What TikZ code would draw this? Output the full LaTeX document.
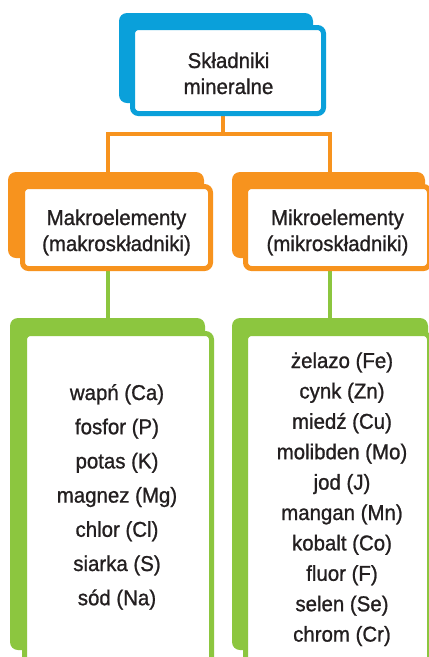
\documentclass[tikz,border=0pt]{standalone}
\usepackage{fontspec}
\setmainfont{Liberation Sans}[FakeStretch=0.95,FakeBold=1]
\definecolor{cblue}{HTML}{0AA0DA}
\definecolor{corange}{HTML}{F7931E}
\definecolor{cgreen}{HTML}{8CC63F}
\definecolor{ctext}{HTML}{231F20}
\tikzset{
  backbox/.style={fill=#1, draw=none, rounded corners=8pt, inner sep=0pt},
  frontbox/.style={fill=white, draw=#1, line width=5pt, rounded corners=6pt, inner sep=0pt},
  txt/.style={font=\fontsize{21.5}{25}\selectfont, text=ctext, inner sep=0pt, anchor=base},
  oline/.style={draw=corange, line width=4pt},
  gline/.style={draw=cgreen, line width=4pt}
}
\begin{document}
\begin{tikzpicture}[x=1pt,y=-1pt]
\clip (0,0) rectangle (429,657);
\fill[white] (0,0) rectangle (429,657);
% connectors (under the boxes)
\coordinate (j) at (223,134);
\coordinate (hl) at (108,134);
\coordinate (hr) at (330,134);
\coordinate (bstart) at (223,110);
\coordinate (ol) at (108,172);
\coordinate (or) at (330,172);
\draw[oline] (bstart) -- (j);
\draw[oline] (ol) -- (hl) -- (hr) -- (or);
\coordinate (gl1) at (108,265);
\coordinate (gl2) at (108,320);
\coordinate (gr1) at (330,265);
\coordinate (gr2) at (330,320);
\draw[gline] (gl1) -- (gl2);
\draw[gline] (gr1) -- (gr2);
% blue card
\node[backbox=cblue, minimum width=194pt, minimum height=90pt] (blueback) at (216,58) {};
\node[frontbox=cblue, minimum width=191pt, minimum height=86pt] (bluefront) at (228,70.5) {};
% orange cards
\node[backbox=corange, minimum width=196pt, minimum height=86pt] (olback) at (106,215) {};
\node[frontbox=corange, minimum width=188pt, minimum height=82pt] (olfront) at (116.5,227.5) {};
\node[backbox=corange, minimum width=193pt, minimum height=86pt] (orback) at (328.5,215) {};
\node[frontbox=corange, minimum width=184pt, minimum height=82pt] (orfront) at (337.5,227.5) {};
% green cards
\node[backbox=cgreen, minimum width=195pt, minimum height=332pt] (glback) at (107.5,484) {};
\node[frontbox=cgreen, minimum width=187pt, minimum height=344pt] (glfront) at (118,505.5) {};
\node[backbox=cgreen, minimum width=196pt, minimum height=332pt] (grback) at (330,484) {};
\node[frontbox=cgreen, minimum width=184pt, minimum height=344pt] (grfront) at (337.5,505.5) {};
% texts
\node[txt] (t1) at (228.5,68) {Składniki};
\node[txt] (t2) at (228.5,94) {mineralne};
\node[txt] (t3) at (116.5,225) {Makroelementy};
\node[txt] (t4) at (116.5,251) {(makroskładniki)};
\node[txt] (t5) at (337.5,225) {Mikroelementy};
\node[txt] (t6) at (337.5,251) {(mikroskładniki)};
\foreach \t [count=\i] in {wapń (Ca), fosfor (P), potas (K), magnez (Mg), chlor (Cl), siarka (S), sód (Na)}
  \node[txt] (L\i) at (117,{400+34.2*(\i-1)}) {\t};
\foreach \t [count=\i] in {żelazo (Fe), cynk (Zn), miedź (Cu), molibden (Mo), jod (J), mangan (Mn), kobalt (Co), fluor (F), selen (Se), chrom (Cr)}
  \node[txt] (R\i) at (342,{368+30.4*(\i-1)}) {\t};
\end{tikzpicture}
\end{document}
